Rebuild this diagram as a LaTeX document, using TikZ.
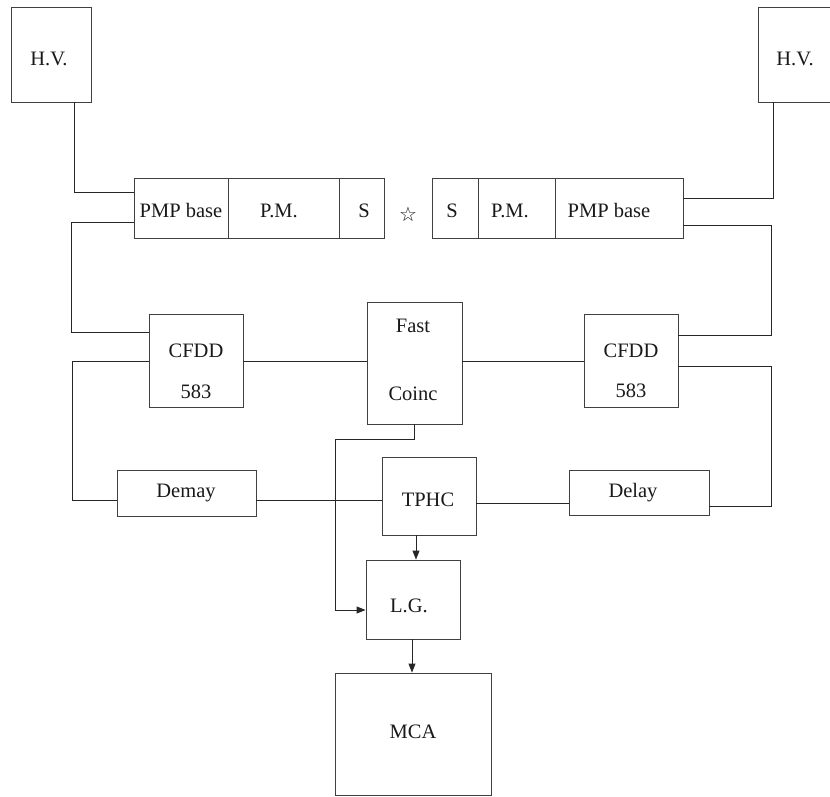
\documentclass[tikz,border=0pt]{standalone}
\usepackage{fontspec}
\setmainfont{Liberation Serif}
\newfontfamily\symfont{DejaVu Sans}
\usetikzlibrary{fit,arrows.meta}
\tikzset{
  box/.style={draw=black!75, line width=0.9pt, inner sep=0pt, fill=none},
  lbl/.style={anchor=base, inner sep=0pt, font=\fontsize{20.5}{24}\selectfont, text=black!90},
  wire/.style={draw=black!85, line width=0.9pt},
  arr/.style={wire, -{Triangle[length=9pt,width=7pt]}}
}
\begin{document}
\begin{tikzpicture}[x=1pt,y=-1pt]
\useasboundingbox (0,0) rectangle (830,796);
% boxes
\node[box, fit={(11,7)(91,102)}] (hvL) {};
\node[box, fit={(758,7)(832,102)}] (hvR) {};
\node[box, fit={(134,178)(228,238)}] (pmpbL) {};
\node[box, fit={(228,178)(339,238)}] (pmL) {};
\node[box, fit={(339,178)(384,238)}] (sL) {};
\node[box, fit={(432,178)(478,238)}] (sR) {};
\node[box, fit={(478,178)(555,238)}] (pmR) {};
\node[box, fit={(555,178)(683,238)}] (pmpbR) {};
\node[box, fit={(149,314)(243,407)}] (cfddL) {};
\node[box, fit={(367,302)(462,424)}] (fast) {};
\node[box, fit={(584,314)(678,407)}] (cfddR) {};
\node[box, fit={(117,470)(256,516)}] (demay) {};
\node[box, fit={(382,457)(476,535)}] (tphc) {};
\node[box, fit={(569,470)(709,515)}] (delay) {};
\node[box, fit={(366,560)(460,639)}] (lg) {};
\node[box, fit={(335,673)(491,795)}] (mca) {};
% labels
\node[lbl] (thvL) at (49,65) {H.V.};
\node[lbl] (thvR) at (795,65) {H.V.};
\node[lbl] (tpmpbL) at (181,217) {PMP base};
\node[lbl] (tpmL) at (279,217) {P.M.};
\node[lbl] (tsL) at (364,217) {S};
\node[lbl] (tsR) at (452,217) {S};
\node[lbl] (tpmR) at (510,217) {P.M.};
\node[lbl] (tpmpbR) at (609,217) {PMP base};
\node[anchor=center, inner sep=0pt, font=\symfont\fontsize{20}{22}\selectfont, text=black!90] (star) at (408,214) {☆};
\node[lbl] (tcfddL1) at (196,357) {CFDD};
\node[lbl] (tcfddL2) at (196,398) {583};
\node[lbl] (tfast1) at (413,332) {Fast};
\node[lbl] (tfast2) at (413,400) {Coinc};
\node[lbl] (tcfddR1) at (631,357) {CFDD};
\node[lbl] (tcfddR2) at (631,397) {583};
\node[lbl] (tdemay) at (186,497) {Demay};
\node[lbl] (ttphc) at (428,506) {TPHC};
\node[lbl] (tdelay) at (633,497) {Delay};
\node[lbl] (tlg) at (409,612) {L.G.};
\node[lbl] (tmca) at (413,738) {MCA};
% bend coordinates
\coordinate (c1) at (74,192);
\coordinate (c2) at (71,222);
\coordinate (c3) at (71,332);
\coordinate (c4) at (72,361);
\coordinate (c5) at (72,500);
\coordinate (c6) at (773,198);
\coordinate (c7) at (771,225);
\coordinate (c8) at (771,335);
\coordinate (c9) at (771,366);
\coordinate (c10) at (771,506);
\coordinate (c11) at (414,439);
\coordinate (c12) at (335,439);
\coordinate (c13) at (335,610);
\coordinate (yfast) at (0,361);
\coordinate (ydem) at (0,500);
\coordinate (ytp) at (0,503);
\coordinate (xtl) at (416,0);
\coordinate (xlm) at (412,0);
% connectors
\draw[wire] (hvL.south -| c1) -- (c1) -- (pmpbL.west |- c1);
\draw[wire] (pmpbL.west |- c2) -- (c2) -- (c3) -- (cfddL.west |- c3);
\draw[wire] (cfddL.west |- c4) -- (c4) -- (c5) -- (demay.west |- c5);
\draw[wire] (cfddL.east |- yfast) -- (fast.west |- yfast);
\draw[wire] (fast.east |- yfast) -- (cfddR.west |- yfast);
\draw[wire] (demay.east |- ydem) -- (tphc.west |- ydem);
\draw[wire] (tphc.east |- ytp) -- (delay.west |- ytp);
\draw[wire] (hvR.south -| c6) -- (c6) -- (pmpbR.east |- c6);
\draw[wire] (pmpbR.east |- c7) -- (c7) -- (c8) -- (cfddR.east |- c8);
\draw[wire] (cfddR.east |- c9) -- (c9) -- (c10) -- (delay.east |- c10);
\draw[arr] (fast.south -| c11) -- (c11) -- (c12) -- (c13) -- (lg.west |- c13);
\draw[arr] (tphc.south -| xtl) -- (lg.north -| xtl);
\draw[arr] (lg.south -| xlm) -- (mca.north -| xlm);
\end{tikzpicture}
\end{document}
